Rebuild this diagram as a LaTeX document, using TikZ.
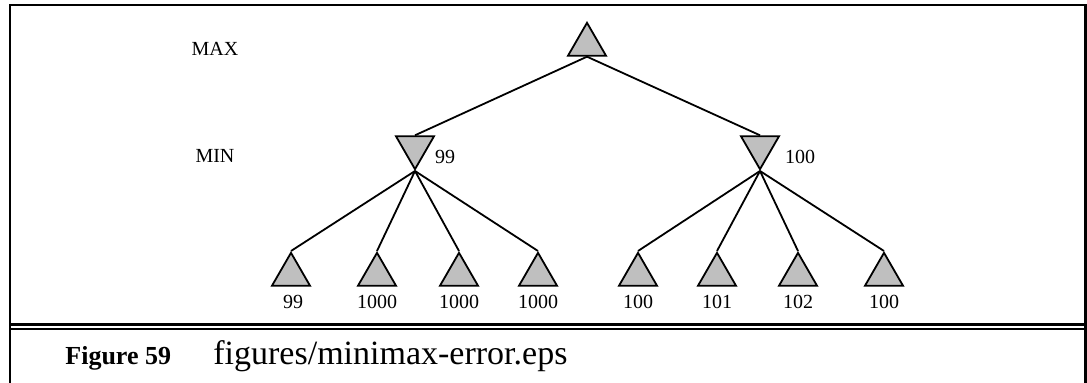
\documentclass[tikz,border=0pt]{standalone}
\usepackage{fontspec}
\setmainfont{Liberation Serif}
\usetikzlibrary{shapes.geometric}

\tikzset{
  maxtri/.style={draw, regular polygon, regular polygon sides=3, fill=black!25,
    inner sep=0pt, minimum size=22pt, line width=0.9pt},
  mintri/.style={maxtri, shape border rotate=180},
  val/.style={font=\fontsize{10}{12}\selectfont, inner sep=0pt},
  edge/.style={line width=0.9pt},
  frame/.style={line width=1.2pt}
}

\begin{document}
\begin{tikzpicture}[x=0.5pt, y=-0.5pt]
\useasboundingbox (0,0) rectangle (1087,383);
% frame
\draw[frame] (10,383) -- (10,5) -- (1085.5,5) -- (1085.5,383);
\draw[frame] (10,324.5) -- (1085.5,324.5);
\draw[frame] (10,329) -- (1085.5,329);
% levels
\node[val] (maxlbl) at (215,49) {MAX};
\node[val] (minlbl) at (215,156) {MIN};
% tree
\node[maxtri, anchor=corner 1] (root) at (587,21) {};
\node[mintri, anchor=corner 1] (mina) at (415,171) {};
\node[mintri, anchor=corner 1] (minb) at (760,171) {};
\node[val] (va) at (445,157) {99};
\node[val] (vb) at (800,157) {100};
\node[maxtri, anchor=corner 1] (l1) at (291,251) {};
\node[maxtri, anchor=corner 1] (l2) at (377,251) {};
\node[maxtri, anchor=corner 1] (l3) at (459,251) {};
\node[maxtri, anchor=corner 1] (l4) at (538,251) {};
\node[maxtri, anchor=corner 1] (l5) at (638,251) {};
\node[maxtri, anchor=corner 1] (l6) at (717,251) {};
\node[maxtri, anchor=corner 1] (l7) at (798,251) {};
\node[maxtri, anchor=corner 1] (l8) at (884,251) {};
\node[val] (v1) at (293,302) {99};
\node[val] (v2) at (377,302) {1000};
\node[val] (v3) at (459,302) {1000};
\node[val] (v4) at (538,302) {1000};
\node[val] (v5) at (638,302) {100};
\node[val] (v6) at (717,302) {101};
\node[val] (v7) at (798,302) {102};
\node[val] (v8) at (884,302) {100};
\draw[edge] (root.side 2) -- (mina.side 2);
\draw[edge] (root.side 2) -- (minb.side 2);
\draw[edge] (mina.corner 1) -- (l1.corner 1);
\draw[edge] (mina.corner 1) -- (l2.corner 1);
\draw[edge] (mina.corner 1) -- (l3.corner 1);
\draw[edge] (mina.corner 1) -- (l4.corner 1);
\draw[edge] (minb.corner 1) -- (l5.corner 1);
\draw[edge] (minb.corner 1) -- (l6.corner 1);
\draw[edge] (minb.corner 1) -- (l7.corner 1);
\draw[edge] (minb.corner 1) -- (l8.corner 1);
% caption
\node[anchor=base west, inner sep=0pt, font=\fontsize{13}{15}\selectfont\bfseries] (fignum) at (65,365) {Figure 59};
\node[anchor=base west, inner sep=0pt, font=\fontsize{17}{20}\selectfont] (figname) at (213,365) {figures/minimax-error.eps};
\end{tikzpicture}
\end{document}
